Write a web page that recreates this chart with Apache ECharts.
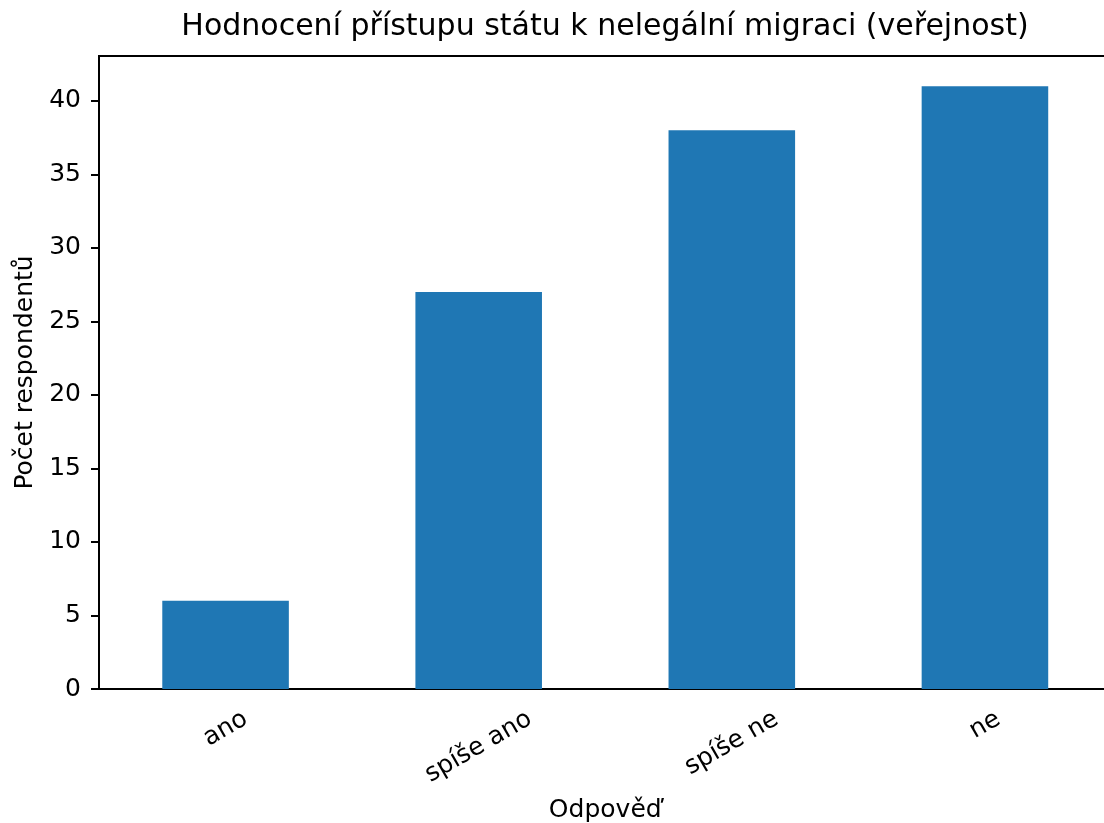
<!DOCTYPE html>
<html lang="cs">
<head>
    <meta charset="UTF-8">
    <title>Hodnocení přístupu státu k nelegální migraci</title>
    <style>
        html, body { margin: 0; padding: 0; background: #fff; }
        #main { width: 1104px; height: 823px; }
    </style>
</head>
<body>
<div id="main"></div>
<script src="https://cdn.jsdelivr.net/npm/echarts@6/dist/echarts.min.js"></script>
<script type="text/javascript">
    // data
    const categories = ['ano', 'spíše ano', 'spíše ne', 'ne'];
    const counts = [6, 27, 38, 41];
    const yTicks = [0, 5, 10, 15, 20, 25, 30, 35, 40];

    const FONT = '"DejaVu Sans", Verdana, sans-serif';
    const TICK_SIZE = 25;
    const ROT = 30 * Math.PI / 180;

    // measure label width so the rotated label box hangs under its tick (like matplotlib)
    const ctx = document.createElement('canvas').getContext('2d');
    ctx.font = TICK_SIZE + 'px ' + FONT;
    function labelHalfHeight(txt) {
        const w = ctx.measureText(txt).width;
        const h = TICK_SIZE;
        return (w * Math.sin(ROT) + h * Math.cos(ROT)) / 2;
    }

    const chart = echarts.init(document.getElementById('main'));
    const option = {
        animation: false,
        title: {
            text: 'Hodnocení přístupu státu k nelegální migraci (veřejnost)',
            left: 605,
            top: 12,
            textAlign: 'center',
            padding: 0,
            textStyle: { fontFamily: FONT, fontSize: 30, fontWeight: 'normal', color: '#000' }
        },
        // plot area runs a little past the right edge of the picture (cropped in the original)
        grid: {
            left: 99, width: 1012.5, top: 56, bottom: 134,
            outerBoundsMode: 'none',
            containLabel: false,
            show: true, borderColor: '#000', borderWidth: 2, backgroundColor: 'transparent'
        },
        xAxis: {
            type: 'category',
            data: categories,
            name: 'Odpověď',
            nameLocation: 'middle',
            nameGap: 109,
            nameTextStyle: { fontFamily: FONT, fontSize: 25, color: '#000' },
            axisLine: { lineStyle: { color: '#000', width: 2 } },
            axisTick: { alignWithLabel: true, length: 8, lineStyle: { color: '#000', width: 2 } },
            axisLabel: { show: false },
            splitLine: { show: false }
        },
        yAxis: {
            type: 'value',
            min: 0,
            max: 43.05,
            interval: 5,
            name: 'Počet respondentů',
            nameLocation: 'middle',
            nameGap: 60,
            nameTextStyle: { fontFamily: FONT, fontSize: 25, color: '#000' },
            axisLine: { show: true, lineStyle: { color: '#000', width: 2 } },
            axisTick: { show: true, length: 8, customValues: yTicks, lineStyle: { color: '#000', width: 2 } },
            axisLabel: { margin: 18, customValues: yTicks, fontFamily: FONT, fontSize: TICK_SIZE, color: '#000' },
            splitLine: { show: false }
        },
        series: [
            {
                type: 'bar',
                data: counts,
                barWidth: '50%',
                itemStyle: { color: '#1f77b4' }
            },
            {
                // rotated category labels
                type: 'custom',
                silent: true,
                clip: false,
                data: categories.map((c, i) => [i, 0]),
                renderItem: function (params, api) {
                    const i = api.value(0);
                    const p = api.coord([i, 0]);
                    const txt = categories[i];
                    return {
                        type: 'text',
                        x: p[0],
                        y: p[1] + 17.5 + labelHalfHeight(txt),
                        rotation: ROT,
                        style: {
                            text: txt,
                            fontFamily: FONT,
                            fontSize: TICK_SIZE,
                            fill: '#000',
                            align: 'center',
                            verticalAlign: 'middle'
                        }
                    };
                }
            }
        ]
    };
    option && chart.setOption(option);
</script>
</body>
</html>
